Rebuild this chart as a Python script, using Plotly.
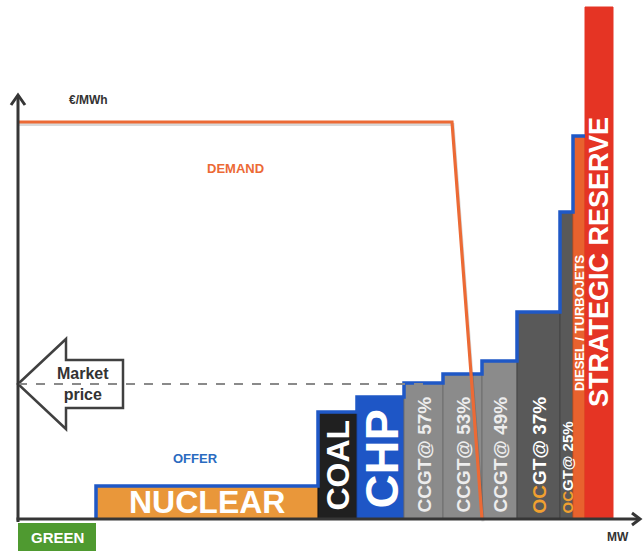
import plotly.graph_objects as go

# Merit order: generation blocks, capacity (GW) and marginal cost (€/MWh)
blocks = ["NUCLEAR", "COAL", "CHP", "CCGT@ 57%", "CCGT@ 53%", "CCGT@ 49%",
          "OCGT@ 37%", "OCGT@ 25%", "DIESEL / TURBOJETS", "STRATEGIC RESERVE"]
capacity = [22.2, 3.9, 4.7, 3.9, 3.9, 3.5, 4.3, 1.3, 1.2, 2.8]
cost = [16.5, 53.5, 61.0, 68.0, 72.5, 79.0, 103.5, 153.5, 191.5, 256.0]

green_capacity = 7.8           # renewables, bid at zero
demand_mw = [0.0, 43.4, 46.4]
demand_price = [198.5, 198.5, 0.0]
market_price = 67.5

# styling per block
fill = ["#E9973A", "#202020", "#1E56C6", "#8B8B8B", "#8B8B8B", "#8B8B8B",
        "#595959", "#595959", "#E8622E", "#E53424"]
edge = ["#C9782A", "#111111", "#1A48A8", "#6E6E6E", "#6E6E6E", "#6E6E6E",
        "#444444", "#444444", "#D0521F", "#E53424"]
label_size = [32, 32, 47, 19, 19, 19, 19, 15, 13, 27]
label_angle = [0, -90, -90, -90, -90, -90, -90, -90, -90, -90]
label_y = [8.5, 27.0, 30.0, 32.0, 32.0, 32.0, 32.0, 25.5, 98.0, 128.5]
label_color = ["white", "white", "white", "#EDEDED", "#EDEDED", "#EDEDED",
               "white", "white", "white", "white"]

FONT = "Liberation Sans, Arial, sans-serif"
AXIS = "#363636"
OFFER_BLUE = "#1F58C6"
DEMAND_ORANGE = "#EC6A35"
OC_ORANGE = "#F0A030"

# cumulative block positions
starts = []
pos = green_capacity
for c in capacity:
    starts.append(pos)
    pos += c
centers = [s + c / 2 for s, c in zip(starts, capacity)]

fig = go.Figure()

# green tab below the axis
fig.add_trace(go.Bar(x=[green_capacity / 2], y=[-14], base=[-2], width=[green_capacity],
                     marker=dict(color="#4F9A30", line=dict(width=0)), hoverinfo="skip"))

# supply blocks
fig.add_trace(go.Bar(x=centers, y=cost, width=capacity,
                     marker=dict(color=fill, line=dict(color=edge, width=1)),
                     hoverinfo="skip"))

# offer curve (steps over the blocks, strategic reserve excluded)
ox, oy = [starts[0]], [0.0]
for i in range(len(capacity) - 1):
    ox += [starts[i], starts[i] + capacity[i]]
    oy += [cost[i], cost[i]]
fig.add_trace(go.Scatter(x=ox, y=oy, mode="lines",
                         line=dict(color=OFFER_BLUE, width=3.5), hoverinfo="skip"))

# market price level
fig.add_trace(go.Scatter(x=[0, 40.5], y=[market_price, market_price], mode="lines",
                         line=dict(color="#8A8A8A", width=2, dash="dash"), hoverinfo="skip"))

# demand curve with a soft shadow
fig.add_trace(go.Scatter(x=[v + 0.1 for v in demand_mw], y=[v - 1.2 for v in demand_price],
                         mode="lines", line=dict(color="rgba(0,0,0,0.15)", width=3),
                         hoverinfo="skip"))
fig.add_trace(go.Scatter(x=demand_mw, y=demand_price, mode="lines",
                         line=dict(color=DEMAND_ORANGE, width=3.2), hoverinfo="skip"))

shapes = []
# market price arrow
mp = market_price
shapes.append(dict(type="path", layer="below",
                   path=(f"M 0 {mp} L 4.8 {mp + 22.5} L 4.8 {mp + 12} L 10.5 {mp + 12} "
                         f"L 10.5 {mp - 12} L 4.8 {mp - 12} L 4.8 {mp - 22.5} Z"),
                   fillcolor="white", line=dict(color="#404040", width=2.5)))
# axes
shapes.append(dict(type="line", x0=0, y0=-1.5, x1=0, y1=212, layer="above",
                   line=dict(color=AXIS, width=3)))
shapes.append(dict(type="line", x0=-0.15, y0=0, x1=62.2, y1=0, layer="above",
                   line=dict(color=AXIS, width=3)))
shapes.append(dict(type="path", layer="above", path="M -0.7 207 L 0 212 L 0.7 207",
                   line=dict(color=AXIS, width=3)))
shapes.append(dict(type="path", layer="above", path="M 61.4 3 L 62.2 0 L 61.4 -3",
                   line=dict(color=AXIS, width=3)))

annotations = []
for i, name in enumerate(blocks):
    text = name
    if name.startswith("OC"):
        text = f"<span style='color:{OC_ORANGE}'>OC</span>{name[2:]}"
    annotations.append(dict(x=centers[i], y=label_y[i], text=f"<b>{text}</b>",
                            textangle=label_angle[i], showarrow=False,
                            xanchor="center", yanchor="middle",
                            font=dict(family=FONT, size=label_size[i], color=label_color[i])))

annotations += [
    dict(x=green_capacity / 2, y=-9, text="<b>GREEN</b>", showarrow=False,
         font=dict(family=FONT, size=15, color="white")),
    dict(x=7.0, y=209.5, text="<b>€/MWh</b>", showarrow=False,
         font=dict(family=FONT, size=12, color="#333333")),
    dict(x=21.7, y=175.5, text="<b>DEMAND</b>", showarrow=False,
         font=dict(family=FONT, size=13, color=DEMAND_ORANGE)),
    dict(x=17.7, y=30.5, text="<b>OFFER</b>", showarrow=False,
         font=dict(family=FONT, size=13, color="#2A6BC0")),
    dict(x=60.0, y=-9, text="<b>MW</b>", showarrow=False,
         font=dict(family=FONT, size=12, color="#333333")),
    dict(x=6.5, y=mp, text="<b>Market<br>price</b>", showarrow=False,
         font=dict(family=FONT, size=16, color="#333333")),
]

fig.update_layout(
    width=643, height=551,
    margin=dict(l=0, r=0, t=0, b=0),
    paper_bgcolor="white", plot_bgcolor="white",
    showlegend=False, barmode="overlay",
    xaxis=dict(range=[-1.8, 62.5], visible=False, fixedrange=True),
    yaxis=dict(range=[-16, 259.5], visible=False, fixedrange=True),
    shapes=shapes, annotations=annotations,
)

fig.write_html("out.html")
